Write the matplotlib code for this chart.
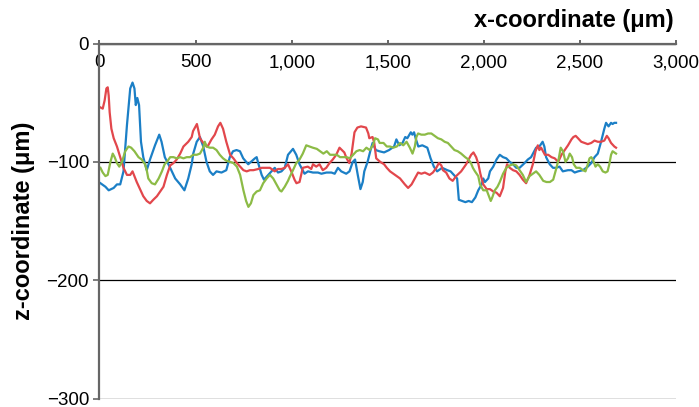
import matplotlib
matplotlib.use("Agg")
import matplotlib.pyplot as plt

plt.rcParams["font.family"] = ["Liberation Sans", "DejaVu Sans"]

# profile traces, x in um, z in um
blue_x = [5, 31, 48, 74, 91, 108, 125, 143, 160, 172, 182, 189, 197, 206, 216, 228, 246, 263, 289, 311,
          323, 340, 368, 394, 420, 442, 462, 480, 488, 506, 523, 540, 557, 574, 591, 609, 635, 660, 678, 695,
          713, 731, 748, 774, 809, 818, 826, 844, 856, 878, 895, 912, 929, 947, 964, 981, 1007, 1024, 1041, 1067,
          1085, 1111, 1137, 1155, 1181, 1207, 1224, 1241, 1258, 1284, 1301, 1318, 1330, 1344, 1358, 1370, 1378, 1395, 1409, 1421,
          1438, 1456, 1481, 1507, 1533, 1545, 1560, 1577, 1591, 1602, 1620, 1628, 1637, 1645, 1659, 1680, 1706, 1723, 1740, 1757,
          1783, 1810, 1827, 1844, 1861, 1870, 1887, 1904, 1921, 1938, 1956, 1971, 1989, 1997, 2006, 2023, 2032, 2049, 2066, 2083,
          2100, 2117, 2135, 2152, 2169, 2186, 2212, 2229, 2246, 2272, 2289, 2306, 2315, 2324, 2343, 2360, 2377, 2394, 2411, 2438,
          2456, 2473, 2490, 2516, 2541, 2559, 2576, 2593, 2610, 2627, 2636, 2649, 2662, 2670, 2679, 2688]
blue_z = [-118, -121, -124, -122, -119, -119, -108, -69, -38, -33, -38, -52, -46, -52, -83, -96, -107, -98, -86, -77,
          -83, -96, -105, -114, -119, -124, -114, -102, -93, -83, -79, -87, -100, -108, -111, -108, -109, -107, -96, -91,
          -90, -91, -97, -102, -97, -96, -101, -111, -115, -111, -108, -105, -109, -108, -105, -94, -89, -94, -102, -110,
          -108, -109, -109, -110, -109, -109, -110, -105, -108, -110, -108, -100, -98, -111, -123, -117, -108, -100, -91, -84,
          -90, -91, -92, -90, -87, -81, -86, -84, -79, -80, -75, -77, -75, -80, -87, -86, -88, -97, -104, -108,
          -105, -107, -108, -111, -114, -132, -133, -134, -133, -134, -130, -124, -119, -114, -117, -114, -108, -104, -98, -94,
          -96, -97, -100, -102, -105, -105, -101, -98, -96, -88, -87, -83, -87, -96, -102, -105, -105, -104, -108, -107,
          -107, -109, -108, -107, -104, -101, -96, -93, -83, -72, -67, -70, -67, -68, -67, -67]

red_x = [5, 17, 27, 36, 43, 48, 53, 62, 74, 91, 108, 125, 143, 160, 172, 182, 194, 211, 228, 246,
         263, 280, 299, 316, 333, 351, 368, 385, 402, 420, 437, 462, 480, 487, 507, 514, 523, 540, 548, 557,
         566, 583, 600, 617, 629, 643, 660, 680, 697, 715, 732, 749, 766, 783, 801, 826, 844, 861, 887, 912,
         929, 947, 964, 981, 998, 1015, 1025, 1041, 1058, 1084, 1102, 1111, 1128, 1145, 1162, 1180, 1197, 1214, 1232, 1249,
         1274, 1286, 1300, 1312, 1327, 1342, 1361, 1387, 1399, 1404, 1421, 1430, 1440, 1461, 1481, 1495, 1512, 1538, 1564, 1589,
         1606, 1624, 1641, 1658, 1675, 1693, 1718, 1735, 1753, 1766, 1779, 1787, 1804, 1821, 1838, 1856, 1882, 1908, 1934, 1946,
         1960, 1972, 1982, 1997, 2015, 2032, 2049, 2066, 2083, 2100, 2112, 2121, 2135, 2152, 2169, 2186, 2203, 2220, 2238, 2255,
         2269, 2281, 2289, 2298, 2318, 2335, 2352, 2369, 2387, 2404, 2421, 2438, 2456, 2466, 2478, 2490, 2507, 2524, 2541, 2559,
         2576, 2593, 2610, 2627, 2640, 2649, 2662, 2679, 2688]
red_z = [-54, -55, -48, -38, -37, -44, -58, -72, -80, -87, -96, -105, -111, -111, -108, -112, -117, -123, -129, -133,
         -135, -132, -129, -125, -121, -111, -103, -101, -98, -93, -87, -83, -79, -74, -68, -73, -80, -84, -84, -87,
         -86, -81, -77, -70, -67, -72, -83, -94, -97, -101, -104, -107, -108, -107, -107, -106, -105, -105, -105, -108,
         -106, -106, -105, -102, -108, -115, -118, -117, -105, -104, -106, -102, -104, -102, -107, -105, -101, -98, -94, -88,
         -92, -97, -101, -93, -75, -71, -70, -71, -76, -80, -79, -84, -97, -100, -102, -105, -108, -111, -114, -119,
         -122, -119, -114, -109, -110, -109, -111, -109, -105, -101, -103, -107, -109, -114, -116, -112, -108, -102, -94, -92,
         -96, -102, -110, -119, -123, -123, -125, -126, -129, -122, -108, -102, -105, -107, -108, -111, -115, -118, -111, -102,
         -91, -86, -90, -88, -94, -94, -96, -97, -100, -94, -90, -86, -81, -79, -78, -80, -83, -84, -85, -84,
         -82, -83, -83, -82, -78, -80, -84, -87, -88]

green_x = [5, 17, 31, 43, 57, 69, 79, 91, 103, 117, 134, 151, 165, 182, 203, 220, 237, 246, 254, 272,
           289, 308, 325, 339, 351, 368, 385, 402, 420, 437, 454, 471, 488, 506, 523, 540, 548, 557, 574, 591,
           609, 626, 643, 660, 680, 697, 715, 732, 749, 763, 775, 788, 801, 818, 835, 852, 870, 887, 904, 921,
           938, 947, 964, 981, 989, 1007, 1024, 1041, 1058, 1076, 1093, 1110, 1131, 1148, 1165, 1183, 1200, 1217, 1235, 1252,
           1269, 1286, 1303, 1320, 1337, 1354, 1372, 1389, 1406, 1423, 1434, 1449, 1458, 1478, 1495, 1512, 1529, 1547, 1564, 1581,
           1598, 1615, 1629, 1641, 1649, 1658, 1675, 1693, 1710, 1727, 1744, 1761, 1779, 1796, 1813, 1830, 1847, 1864, 1882, 1903,
           1920, 1933, 1943, 1954, 1971, 1980, 1997, 2015, 2027, 2036, 2044, 2057, 2071, 2083, 2100, 2117, 2135, 2152, 2169, 2186,
           2203, 2220, 2238, 2255, 2272, 2289, 2309, 2326, 2344, 2361, 2378, 2390, 2400, 2412, 2425, 2438, 2447, 2459, 2468, 2481,
           2499, 2516, 2529, 2541, 2550, 2559, 2567, 2581, 2593, 2605, 2619, 2633, 2644, 2653, 2662, 2670, 2679, 2688]
green_z = [-105, -109, -112, -111, -100, -93, -96, -101, -104, -100, -91, -87, -88, -91, -96, -98, -102, -107, -114, -118,
           -119, -114, -108, -102, -100, -96, -96, -97, -96, -97, -96, -96, -94, -94, -93, -88, -83, -87, -88, -88,
           -90, -94, -97, -99, -100, -101, -104, -111, -124, -133, -138, -135, -128, -125, -124, -118, -114, -111, -114, -119,
           -124, -125, -121, -116, -113, -107, -101, -98, -93, -86, -87, -88, -89, -91, -93, -91, -94, -94, -94, -96,
           -96, -96, -97, -94, -91, -90, -91, -88, -90, -86, -80, -81, -84, -84, -87, -87, -88, -87, -84, -86,
           -83, -88, -93, -87, -79, -76, -77, -77, -76, -76, -78, -80, -81, -83, -84, -87, -90, -91, -93, -96,
           -98, -101, -105, -108, -112, -119, -124, -124, -129, -133, -130, -124, -121, -117, -110, -105, -103, -102, -103, -107,
           -111, -117, -112, -110, -108, -111, -116, -117, -117, -115, -105, -97, -88, -91, -100, -97, -93, -96, -102, -105,
           -105, -107, -108, -102, -97, -96, -98, -104, -102, -104, -108, -109, -108, -102, -94, -91, -92, -93]

x_ticks = [0, 500, 1000, 1500, 2000, 2500, 3000]
x_tick_labels = ["0", "500", "1,000", "1,500", "2,000", "2,500", "3,000"]
y_ticks = [0, -100, -200, -300]

fig = plt.figure(figsize=(6.99, 4.07), dpi=100)
ax = fig.add_axes([0.1423, 0.0205, 0.8248, 0.8726])

ax.plot(blue_x, blue_z, color="#1b7fc6", lw=1.6)
ax.plot(red_x, red_z, color="#e2474c", lw=1.6)
ax.plot(green_x, green_z, color="#8cbb46", lw=1.6)

ax.set_xlim(0, 3000)
ax.set_ylim(-300, 0)

ax.spines["right"].set_visible(False)
ax.spines["bottom"].set_visible(False)
for s in ["top", "left"]:
    ax.spines[s].set_color("#666666")
    ax.spines[s].set_linewidth(1.6)

ax.set_yticks(y_ticks)
ax.yaxis.grid(True, color="black", lw=0.9)
ax.set_axisbelow(True)

ax.set_xticks(x_ticks)
ax.set_xticklabels(x_tick_labels)
ax.tick_params(axis="x", top=True, bottom=False, labeltop=True, labelbottom=False,
               direction="out", length=3, width=1.4, color="#666666", pad=-23, labelsize=13.5)
ax.tick_params(axis="y", direction="out", length=4.5, width=1.2, color="#666666", pad=3, labelsize=13.5)

fig.text(0.963, 0.934, "x-coordinate (\u03bcm)", ha="right", va="baseline",
         fontsize=17, fontweight="bold")
fig.text(0.034, 0.457, "z-coordinate (\u03bcm)", ha="center", va="center", rotation=90,
         fontsize=17, fontweight="bold")

fig.savefig("out.png", dpi=100)
